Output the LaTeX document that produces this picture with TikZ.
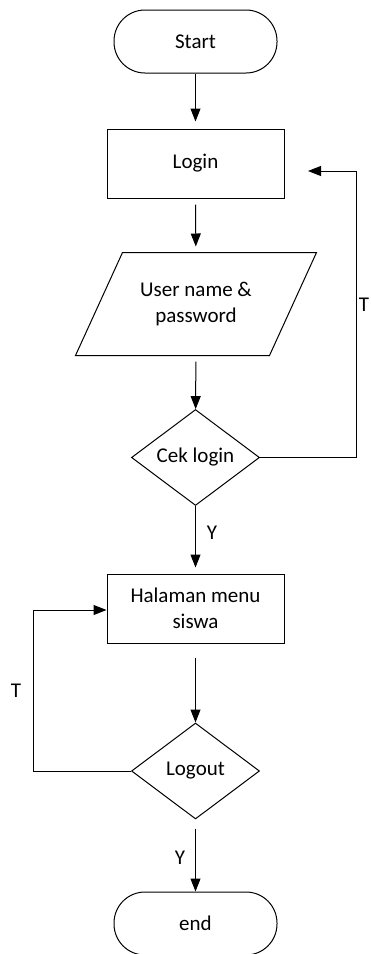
\documentclass[tikz,border=0pt]{standalone}
\usepackage{fontspec}
\setmainfont{Carlito}
\usetikzlibrary{shapes.geometric,arrows.meta}
\tikzset{
  terminal/.style={draw,rectangle,rounded corners=31pt,minimum width=163pt,minimum height=63pt},
  process/.style={draw,rectangle,minimum width=177pt,minimum height=69pt,align=center},
  io/.style={rectangle,minimum width=193pt,minimum height=102pt,align=center},
  decision/.style={draw,diamond,aspect=1.32,inner sep=0pt,minimum width=128pt,minimum height=96pt},
  arr/.style={-{Triangle[length=13pt,width=10pt]}},
}
\begin{document}
\begin{tikzpicture}[x=1pt,y=-1pt,line width=1pt,font=\fontsize{21}{25.5}\selectfont]
\useasboundingbox (0,0) rectangle (371,954);
% boxes
\node[terminal] (start) at (195.5,41.5) {Start};
\node[process] (login) at (195.5,163.5) {Login};
\node[io] (user) at (196,304) {User name \&\\password};
\draw ([xshift=23.5pt]user.north west) -- ([xshift=23.5pt]user.north east)
  -- ([xshift=-23.5pt]user.south east) -- ([xshift=-23.5pt]user.south west) -- cycle;
\node[decision] (cek) at (195.5,457.5) {Cek login};
\node[process] (menu) at (195.5,608.5) {Halaman menu\\siswa};
\node[decision] (logout) at (195.5,771) {Logout};
\node[terminal] (end) at (195.5,923.5) {end};
% labels
\node (y1) at (212,533) {Y};
\node (y2) at (180,858) {Y};
\node (t1) at (364,305) {T};
\node (t2) at (16,691) {T};
% loop ends
\coordinate (r1) at (356,171);
\coordinate (back1) at (308,171);
\coordinate (l1) at (33,610);
% arrows
\draw[arr,shorten >=7pt] (start) -- (login);
\draw[arr,shorten <=6pt,shorten >=6pt] (login) -- (user);
\draw[arr,shorten <=6pt] (user) -- (cek);
\draw[arr,shorten >=6pt] (cek) -- (menu);
\draw[arr,shorten <=14pt] (menu) -- (logout);
\draw[arr,shorten <=9pt] (logout) -- (end);
\draw[arr] (cek.east) -| (r1) -- (back1);
\draw[arr] (logout.west) -| (l1) -- (menu.west |- l1);
\end{tikzpicture}
\end{document}
